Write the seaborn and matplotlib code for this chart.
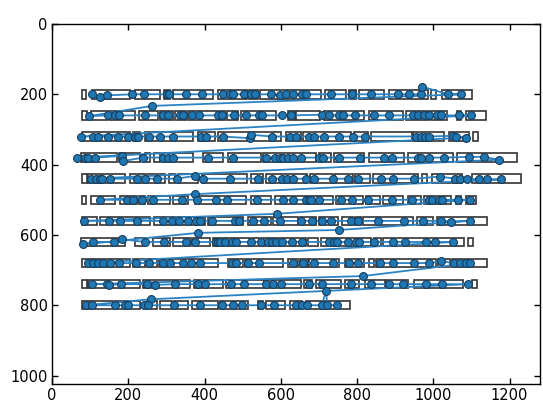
import matplotlib
matplotlib.use("Agg")
import matplotlib.pyplot as plt
from matplotlib.patches import Rectangle
import pandas as pd
import seaborn as sns

# text line centres (page coordinates, y grows downward)
row_y = [200, 260, 320, 380, 440, 500, 560, 620, 680, 740, 800]
box_h = 24

# word boxes per line: (x_left, x_right)
boxes_200 = [(78, 89), (104, 205), (218, 283), (294, 310), (317, 422), (435, 512), (517, 540),
             (546, 706), (716, 771), (779, 797), (805, 871), (884, 986), (994, 1007), (1023, 1102)]
boxes_260 = [(78, 91), (102, 146), (152, 218), (228, 278), (283, 317), (323, 351), (357, 454),
             (459, 488), (496, 588), (619, 637), (640, 703), (713, 818), (831, 921), (929, 989),
             (994, 1036), (1062, 1073), (1086, 1138)]
boxes_320 = [(78, 205), (212, 231), (244, 370), (383, 428), (435, 601), (614, 653), (658, 784),
             (792, 829), (837, 944), (947, 1028), (1041, 1094), (1104, 1117)]
boxes_380 = [(75, 170), (176, 231), (244, 257), (268, 283), (289, 370), (396, 449), (462, 548),
             (553, 692), (700, 732), (740, 818), (831, 923), (934, 1052), (1062, 1220)]
boxes_440 = [(78, 91), (95, 191), (205, 244), (250, 296), (307, 323), (330, 384), (393, 511),
             (521, 553), (561, 668), (677, 737), (742, 790), (795, 834), (842, 960), (971, 984),
             (997, 1075), (1101, 1229)]
boxes_500 = [(78, 89), (102, 165), (178, 223), (228, 244), (252, 310), (317, 357), (375, 509),
             (522, 574), (585, 737), (745, 816), (824, 860), (868, 921), (934, 968), (976, 1047),
             (1060, 1073), (1086, 1112)]
boxes_560 = [(78, 117), (126, 257), (268, 362), (365, 401), (409, 501), (514, 574), (580, 645),
             (650, 692), (700, 750), (761, 790), (795, 810), (816, 947), (957, 999), (1010, 1141)]
boxes_620 = [(75, 191), (218, 244), (265, 310), (317, 365), (370, 414), (422, 519), (525, 543),
             (548, 666), (671, 698), (706, 837), (845, 863), (868, 1081), (1091, 1104)]
boxes_680 = [(78, 205), (212, 244), (249, 275), (281, 435), (462, 501), (506, 606), (619, 645),
             (650, 671), (674, 753), (769, 818), (831, 845), (850, 1007), (1012, 1044), (1049, 1141)]
boxes_740 = [(78, 91), (94, 231), (239, 362), (372, 449), (456, 556), (561, 653), (661, 682),
             (692, 758), (769, 805), (821, 873), (876, 934), (950, 1078), (1102, 1115)]
boxes_800 = [(78, 160), (165, 231), (249, 275), (283, 315), (320, 357), (367, 435), (441, 514),
             (540, 553), (561, 611), (624, 656), (666, 782)]

# reading-order points, line by line
pts_200 = [(104, 198), (126, 207), (143, 203), (210, 200), (241, 200), (301, 200), (307, 200),
           (351, 200), (393, 200), (449, 200), (467, 200), (475, 200), (504, 200), (522, 200),
           (532, 200), (574, 200), (598, 203), (614, 200), (632, 200), (656, 200), (666, 200),
           (732, 200), (787, 200), (837, 200), (908, 200), (936, 200), (968, 200), (970, 178),
           (1039, 200), (1073, 200)]
pts_260 = [(262, 233), (97, 262), (147, 260), (165, 260), (176, 260), (244, 260), (291, 260),
           (304, 260), (336, 260), (344, 260), (367, 260), (386, 260), (435, 260), (446, 260),
           (477, 260), (509, 260), (543, 260), (551, 260), (603, 260), (627, 260), (708, 258),
           (727, 260), (753, 260), (763, 260), (795, 260), (845, 260), (884, 260), (947, 260),
           (960, 260), (976, 260), (989, 260), (1010, 258), (1020, 260), (1068, 260), (1099, 260)]
pts_320 = [(75, 320), (108, 320), (121, 320), (147, 320), (173, 320), (199, 320), (218, 320),
           (226, 320), (254, 320), (283, 320), (317, 320), (391, 320), (404, 320), (449, 320),
           (519, 325), (522, 315), (577, 320), (624, 320), (640, 320), (674, 320), (687, 320),
           (713, 320), (753, 320), (790, 320), (821, 320), (955, 320), (968, 320), (978, 320),
           (989, 320), (1052, 318), (1060, 320), (1086, 323)]
pts_380 = [(66, 380), (87, 380), (94, 380), (113, 380), (184, 375), (186, 390), (239, 380),
           (291, 380), (304, 380), (317, 380), (409, 380), (475, 380), (561, 380), (585, 380),
           (598, 380), (606, 380), (619, 380), (632, 380), (653, 380), (700, 380), (711, 380),
           (753, 380), (808, 380), (871, 380), (892, 380), (960, 380), (968, 380), (989, 380),
           (1028, 380), (1094, 378), (1133, 378), (1172, 386)]
pts_440 = [(102, 440), (115, 440), (126, 440), (130, 440), (152, 440), (222, 440), (244, 440),
           (275, 440), (327, 440), (375, 432), (397, 440), (467, 440), (541, 440), (576, 440),
           (603, 440), (616, 440), (633, 440), (666, 440), (687, 440), (736, 440), (776, 440),
           (803, 440), (862, 440), (894, 440), (950, 440), (1018, 434), (1057, 440), (1070, 440),
           (1088, 440), (1120, 442), (1140, 442), (1177, 442)]
pts_500 = [(375, 484), (126, 500), (197, 500), (212, 500), (236, 500), (265, 500), (341, 500),
           (380, 500), (430, 500), (459, 500), (538, 500), (606, 500), (632, 500), (666, 500),
           (674, 500), (679, 500), (700, 500), (758, 500), (787, 500), (829, 500), (892, 500),
           (944, 500), (989, 500), (997, 500), (1015, 500), (1023, 500), (1065, 500), (1096, 500)]
pts_560 = [(589, 540), (84, 560), (150, 560), (178, 560), (223, 560), (291, 560), (315, 560),
           (333, 560), (357, 560), (378, 560), (388, 560), (420, 560), (480, 560), (491, 560),
           (527, 560), (556, 560), (598, 560), (653, 560), (682, 560), (708, 560), (732, 560),
           (784, 560), (803, 560), (855, 560), (923, 560), (973, 560), (1020, 560), (1047, 562),
           (1096, 560)]
pts_620 = [(752, 586), (383, 594), (81, 627), (108, 620), (163, 620), (183, 612), (244, 620),
           (294, 620), (351, 620), (375, 620), (430, 620), (435, 620), (441, 620), (454, 620),
           (472, 620), (483, 620), (522, 620), (548, 620), (567, 620), (577, 620), (588, 620),
           (603, 620), (630, 620), (656, 620), (727, 620), (740, 620), (748, 620), (776, 620),
           (797, 620), (805, 620), (845, 620), (894, 620), (926, 620), (981, 620), (1005, 620),
           (1052, 620)]
pts_680 = [(94, 680), (108, 680), (121, 680), (134, 680), (152, 680), (176, 680), (220, 680),
           (254, 680), (291, 680), (310, 680), (344, 680), (365, 680), (388, 680), (472, 680),
           (483, 680), (514, 680), (543, 680), (632, 680), (658, 680), (687, 680), (737, 680),
           (779, 680), (803, 680), (860, 680), (894, 680), (950, 680), (989, 680), (1020, 675),
           (1054, 680), (1070, 680), (1086, 680), (1096, 680)]
pts_740 = [(816, 717), (105, 740), (144, 740), (150, 742), (181, 740), (249, 740), (270, 742),
           (323, 740), (383, 740), (401, 740), (470, 740), (504, 740), (561, 740), (580, 740),
           (601, 740), (674, 740), (708, 740), (784, 740), (837, 740), (884, 740), (921, 740),
           (981, 740), (1023, 740), (1091, 740)]
pts_800 = [(259, 783), (89, 800), (105, 800), (165, 800), (191, 800), (199, 800), (241, 800),
           (252, 800), (320, 800), (388, 800), (446, 800), (475, 800), (498, 800), (548, 800),
           (582, 800), (640, 800), (655, 800), (668, 800), (707, 800), (719, 760), (722, 800),
           (747, 800)]

box_rows = [boxes_200, boxes_260, boxes_320, boxes_380, boxes_440, boxes_500,
            boxes_560, boxes_620, boxes_680, boxes_740, boxes_800]
path = (pts_200 + pts_260 + pts_320 + pts_380 + pts_440 + pts_500
        + pts_560 + pts_620 + pts_680 + pts_740 + pts_800)

sns.set_style("ticks", {"xtick.direction": "in", "ytick.direction": "in",
                        "xtick.top": True, "ytick.right": True,
                        "axes.edgecolor": "black"})
plt.rcParams["font.family"] = ["DejaVu Sans"]

fig = plt.figure(figsize=(5.43, 4.18), dpi=100)
ax = fig.add_axes([52 / 543, 34 / 418, 488 / 543, 360 / 418])

# word boxes
for y, boxes in zip(row_y, box_rows):
    for x0, x1 in boxes:
        ax.add_patch(Rectangle((x0, y - box_h / 2), x1 - x0, box_h,
                               fill=False, edgecolor="#333333", linewidth=1.2, zorder=1))

df = pd.DataFrame(path, columns=["x", "y"])
sns.lineplot(data=df, x="x", y="y", sort=False, estimator=None,
             color="#2b83c4", linewidth=1.3, ax=ax, zorder=2)
sns.scatterplot(data=df, x="x", y="y", color="#1f77b4", edgecolor="#173d5c",
                linewidth=0.8, s=32, ax=ax, zorder=3)

ax.set_xlim(0, 1280)
ax.set_ylim(1024, 0)
ax.set_xticks(range(0, 1201, 200))
ax.set_yticks(range(0, 1001, 200))
ax.set_xlabel("")
ax.set_ylabel("")
ax.tick_params(labelsize=10.5, length=4, width=1, colors="black", pad=3)
for s in ax.spines.values():
    s.set_linewidth(1.0)

fig.savefig("out.png", dpi=100)
